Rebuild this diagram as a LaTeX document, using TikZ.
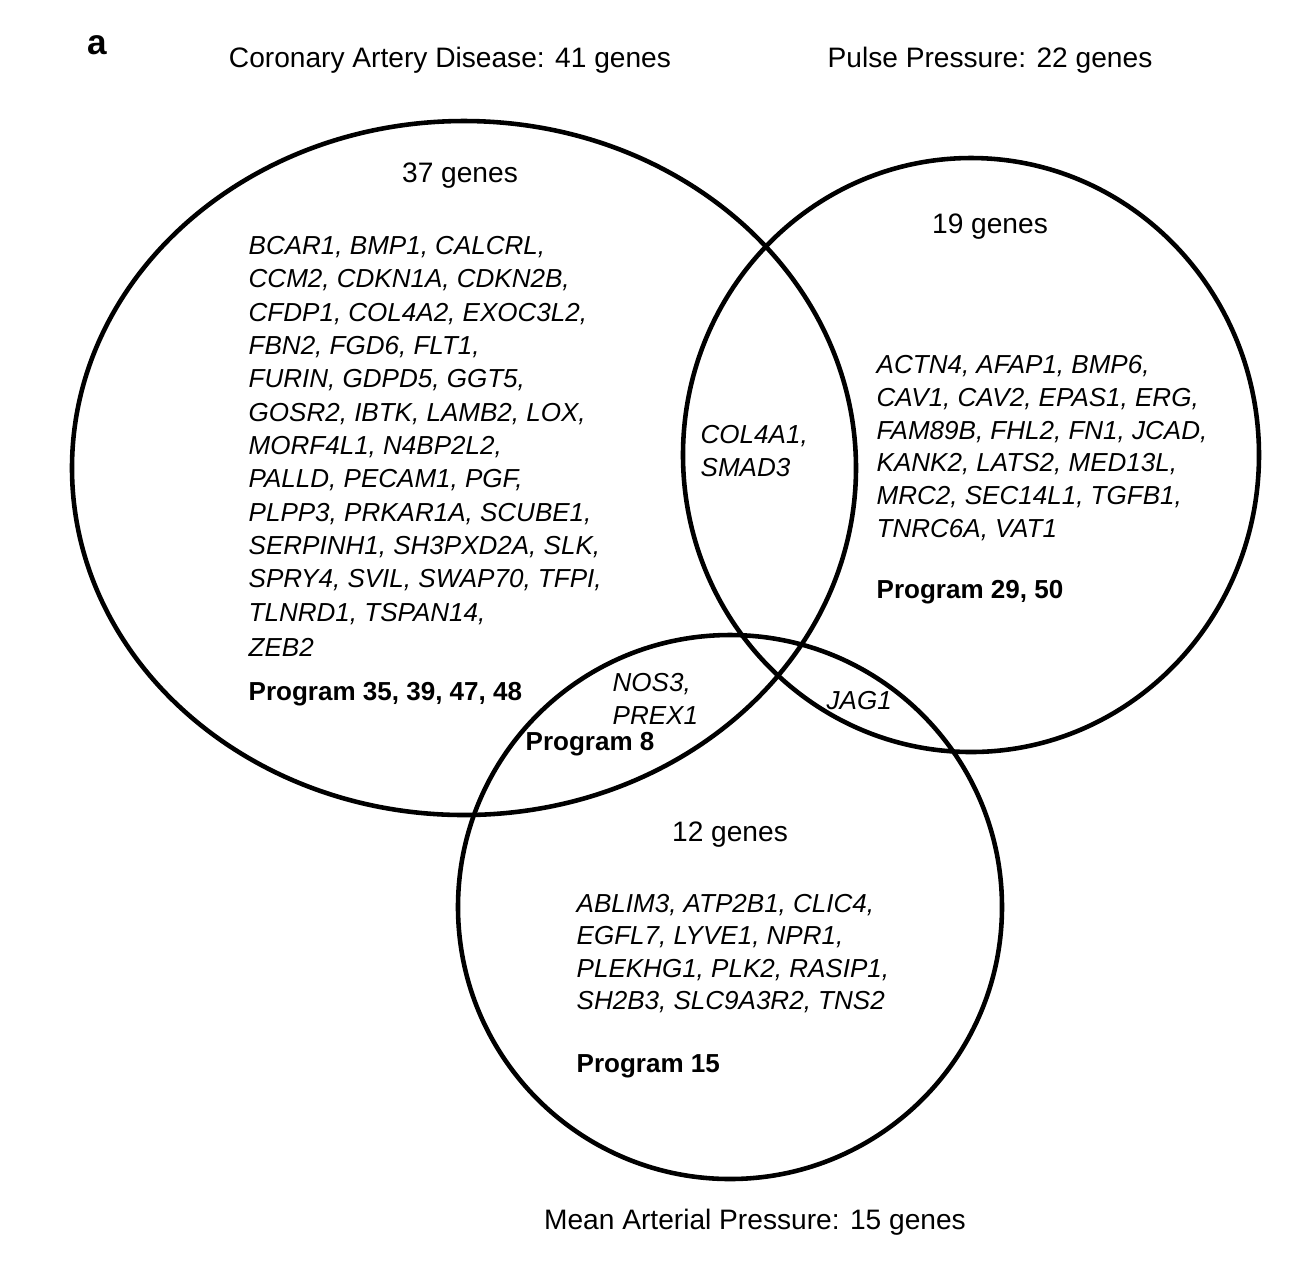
\documentclass[tikz,border=0pt]{standalone}
\usepackage{fontspec}
\setmainfont{Liberation Sans}
\begin{document}
\begin{tikzpicture}[x=0.01cm,y=-0.01cm,
  circ/.style={line width=1.3pt},
  t/.style={font=\fontsize{8}{10}\selectfont,inner sep=0},
  g/.style={font=\fontsize{7.4}{9}\selectfont\itshape,inner sep=0,anchor=west},
  p/.style={font=\fontsize{7.4}{9}\selectfont\bfseries,inner sep=0,anchor=west}]
\useasboundingbox (0,0) rectangle (1308,1262);
\draw[circ] (464,468) ellipse [x radius=392,y radius=347];
\draw[circ] (971,455) ellipse [x radius=288,y radius=297];
\draw[circ] (730,907) ellipse [x radius=272,y radius=272];
\node[font=\fontsize{10}{12}\selectfont\bfseries,inner sep=0] (a) at (97,45) {a};
\node[t] (tc) at (450,60) {Coronary Artery Disease: 41 genes};
\node[t] (tp) at (990,60) {Pulse Pressure: 22 genes};
\node[t] (tm) at (755,1222) {Mean Arterial Pressure: 15 genes};
\node[t] (nc) at (460,176) {37 genes};
\node[t] (np) at (990,227) {19 genes};
\node[t] (nm) at (730,835) {12 genes};
\foreach \s [count=\i from 0] in {{BCAR1, BMP1, CALCRL,},{CCM2, CDKN1A, CDKN2B,},{CFDP1, COL4A2, EXOC3L2,},{FBN2, FGD6, FLT1,},{FURIN, GDPD5, GGT5,},{GOSR2, IBTK, LAMB2, LOX,},{MORF4L1, N4BP2L2,},{PALLD, PECAM1, PGF,},{PLPP3, PRKAR1A, SCUBE1,},{SERPINH1, SH3PXD2A, SLK,},{SPRY4, SVIL, SWAP70, TFPI,},{TLNRD1, TSPAN14,},{ZEB2}}
  \node[g] (c\i) at (248,247+33.33*\i) {\s};
\node[p] (pc) at (248,694) {Program 35, 39, 47, 48};
\foreach \s [count=\i from 0] in {{ACTN4, AFAP1, BMP6,},{CAV1, CAV2, EPAS1, ERG,},{FAM89B, FHL2, FN1, JCAD,},{KANK2, LATS2, MED13L,},{MRC2, SEC14L1, TGFB1,},{TNRC6A, VAT1}}
  \node[g] (q\i) at (876,366+32.8*\i) {\s};
\node[p] (pp) at (876,592) {Program 29, 50};
\node[g] (x1) at (700,436) {COL4A1,};
\node[g] (x2) at (700,468) {SMAD3};
\node[g] (y1) at (612,684) {NOS3,};
\node[g] (y2) at (612,716) {PREX1};
\node[p] (p8) at (525,744) {Program 8};
\node[g] (j) at (826,701) {JAG1};
\foreach \s [count=\i from 0] in {{ABLIM3, ATP2B1, CLIC4,},{EGFL7, LYVE1, NPR1,},{PLEKHG1, PLK2, RASIP1,},{SH2B3, SLC9A3R2, TNS2}}
  \node[g] (m\i) at (576,905+32.5*\i) {\s};
\node[p] (pm) at (576,1066) {Program 15};
\end{tikzpicture}
\end{document}
